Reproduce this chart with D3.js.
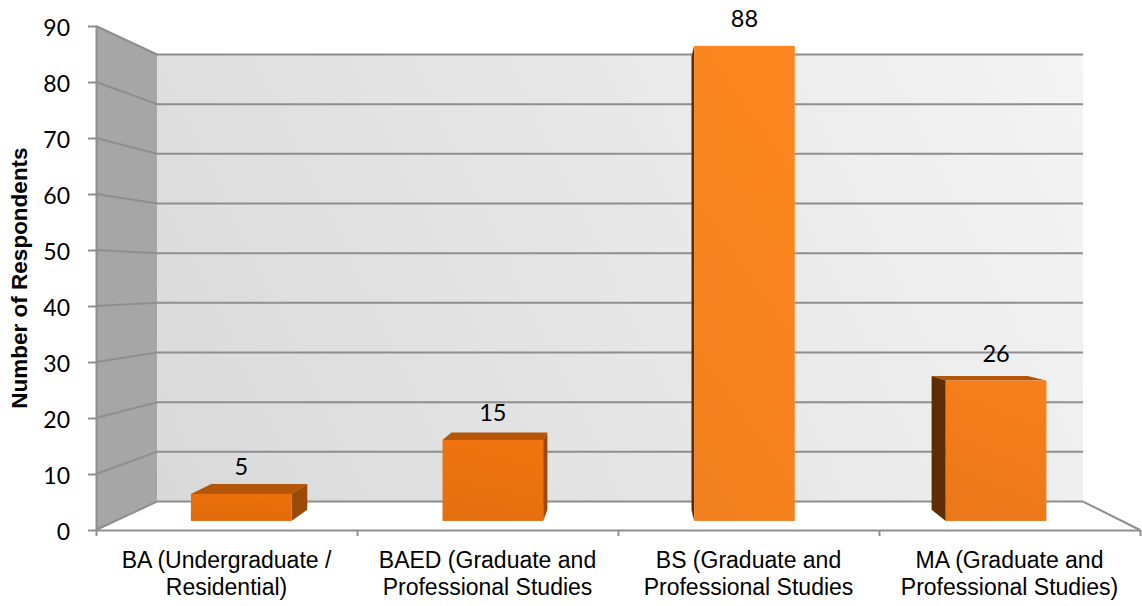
<!DOCTYPE html>
<html>
<head>
<meta charset="utf-8">
<script src="https://cdn.jsdelivr.net/npm/d3@7"></script>
<style>
  html, body { margin: 0; padding: 0; background: #ffffff; }
  svg { display: block; }
</style>
</head>
<body>
<svg id="chart" width="1142" height="606"></svg>
<script>
// ---- data ----
const categories = ["BA", "BAED", "BS", "MA"];
const categoryLabels = [
  ["BA (Undergraduate /", "Residential)"],
  ["BAED (Graduate and", "Professional Studies"],
  ["BS (Graduate and", "Professional Studies"],
  ["MA (Graduate and", "Professional Studies)"]
];
const respondents = [5, 15, 88, 26];
const yTicks = [0, 10, 20, 30, 40, 50, 60, 70, 80, 90];
const yTitle = "Number of Respondents";

// ---- layout ----
const svg = d3.select("#chart");
const plot = { left: 96, right: 1140, top: 26, bottom: 530 };
const vp = [636, 278];                       // vanishing point of the 3-D box
const depth = { wall: 0.887, barFront: 0.964, barBack: 0.92 };
const gridColor = "#8e8e8e";

const x = d3.scaleBand()
  .domain(categories)
  .range([plot.left, plot.right])
  .paddingInner(0.6)
  .paddingOuter(0.3);
const xEdge = d3.scaleLinear().domain([0, categories.length]).range([plot.left, plot.right]);
const y = d3.scaleLinear().domain([0, 90]).range([plot.bottom, plot.top]);
// taller bars catch more light
const shade = d3.scaleLinear()
  .domain([5, 15, 26, 88])
  .range(["#e46c0a", "#e8710f", "#ef7a1a", "#f5831f"]);

// project a point of the front plane to a given depth (scale toward vp)
const proj = (px, py, s) => [vp[0] + s * (px - vp[0]), vp[1] + s * (py - vp[1])];
const line = d3.line();
const poly = pts => line(pts) + "Z";

const defs = svg.append("defs");
const wallGrad = defs.append("linearGradient")
  .attr("id", "backWall").attr("gradientUnits", "userSpaceOnUse")
  .attr("x1", 157).attr("y1", 500).attr("x2", 1083).attr("y2", 56);
wallGrad.append("stop").attr("offset", 0).attr("stop-color", "#d9d9d9");
wallGrad.append("stop").attr("offset", 1).attr("stop-color", "#f4f4f4");

const L = plot.left, R = plot.right;
const y0 = y(0), yMax = y(90), sw = depth.wall;

// ---- walls and floor ----
const g = svg.append("g");
g.append("path")
  .attr("d", poly([proj(L, y0, 1), proj(L, yMax, 1), proj(L, yMax, sw), proj(L, y0, sw)]))
  .attr("fill", "#a6a6a6");
g.append("path")
  .attr("d", poly([proj(L, y0, sw), proj(L, yMax, sw), proj(R, yMax, sw), proj(R, y0, sw)]))
  .attr("fill", "url(#backWall)");
g.append("path")
  .attr("d", poly([proj(L, y0, 1), proj(L, y0, sw), proj(R, y0, sw), proj(R, y0, 1)]))
  .attr("fill", "#ffffff");

// gridlines: across left wall then back wall
g.selectAll("path.grid")
  .data(yTicks)
  .join("path")
  .attr("class", "grid")
  .attr("d", v => line([proj(L, y(v), 1), proj(L, y(v), sw), proj(R, y(v), sw)]))
  .attr("fill", "none")
  .attr("stroke", gridColor)
  .attr("stroke-width", 2);

// right edge of the floor
g.append("path")
  .attr("d", line([proj(R, y0, sw), proj(R, y0, 1)]))
  .attr("stroke", gridColor).attr("stroke-width", 2).attr("fill", "none");

// ---- bars ----
const barData = categories.map((c, i) => ({ c, v: respondents[i], i }));

barData.forEach(d => {
  const base = d3.color(shade(d.v));
  const gr = defs.append("linearGradient")
    .attr("id", "front" + d.i)
    .attr("x1", 0).attr("y1", 1).attr("x2", 0.3).attr("y2", 0);
  gr.append("stop").attr("offset", 0).attr("stop-color", base.darker(0.06).formatHex());
  gr.append("stop").attr("offset", 1).attr("stop-color", base.brighter(0.08).formatHex());
});

const bars = svg.append("g").selectAll("g.bar")
  .data(barData)
  .join("g").attr("class", "bar");

bars.each(function (d) {
  const b = d3.select(this);
  const x0 = x(d.c), x1 = x(d.c) + x.bandwidth();
  const yT = y(d.v), yB = y(0);
  const sf = depth.barFront, sb = depth.barBack;

  // top face (only visible below the vanishing point)
  if (proj(x0, yT, sf)[1] > vp[1]) {
    b.append("path")
      .attr("d", poly([proj(x0, yT, sf), proj(x1, yT, sf), proj(x1, yT, sb), proj(x0, yT, sb)]))
      .attr("fill", "#b3560a");
  }
  // side faces
  if (x1 < vp[0]) {
    b.append("path")
      .attr("d", poly([proj(x1, yT, sf), proj(x1, yT, sb), proj(x1, yB, sb), proj(x1, yB, sf)]))
      .attr("fill", "#9b4906");
  }
  if (x0 > vp[0]) {
    b.append("path")
      .attr("d", poly([proj(x0, yT, sf), proj(x0, yT, sb), proj(x0, yB, sb), proj(x0, yB, sf)]))
      .attr("fill", "#5e2c05");
  }
  // front face
  const p0 = proj(x0, yT, sf), p1 = proj(x1, yB, sf);
  b.append("rect")
    .attr("x", p0[0]).attr("y", p0[1])
    .attr("width", p1[0] - p0[0]).attr("height", p1[1] - p0[1])
    .attr("fill", `url(#front${d.i})`);

  // value label
  b.append("text")
    .attr("x", (p0[0] + p1[0]) / 2)
    .attr("y", p0[1] - 19)
    .attr("text-anchor", "middle")
    .attr("font-family", "Lato, 'Open Sans', sans-serif")
    .attr("font-size", 23.5)
    .attr("fill", "#000")
    .text(d.v);
});

// ---- axes ----
const yAxis = svg.append("g")
  .attr("transform", `translate(${plot.left},0)`)
  .call(d3.axisLeft(y).tickValues(yTicks).tickSize(8).tickSizeOuter(0).tickPadding(18));
yAxis.select(".domain").attr("stroke", gridColor).attr("stroke-width", 2);
yAxis.selectAll(".tick line").attr("stroke", gridColor).attr("stroke-width", 2);
yAxis.selectAll(".tick text")
  .attr("font-family", "Lato, 'Open Sans', sans-serif")
  .attr("font-size", 23)
  .attr("fill", "#000")
  .attr("dy", "0.42em");

const xAxis = svg.append("g")
  .attr("transform", `translate(0,${plot.bottom})`)
  .call(d3.axisBottom(xEdge).tickValues(d3.range(categories.length + 1))
    .tickSize(6).tickSizeOuter(0).tickFormat(""));
xAxis.select(".domain").attr("stroke", gridColor).attr("stroke-width", 2);
xAxis.selectAll(".tick line").attr("stroke", gridColor).attr("stroke-width", 2);

// category labels
svg.append("g").selectAll("text")
  .data(categories)
  .join("text")
  .attr("x", c => x(c) + x.bandwidth() / 2)
  .attr("y", 568)
  .attr("text-anchor", "middle")
  .attr("font-family", "'Liberation Sans', Arial, sans-serif")
  .attr("font-size", 23)
  .attr("fill", "#000")
  .selectAll("tspan")
  .data((c, i) => categoryLabels[i])
  .join("tspan")
  .attr("x", function () { return d3.select(this.parentNode).attr("x"); })
  .attr("dy", (t, j) => j === 0 ? 0 : 27)
  .text(t => t);

// y-axis title
svg.append("text")
  .attr("transform", `translate(27,${(plot.top + plot.bottom) / 2}) rotate(-90)`)
  .attr("text-anchor", "middle")
  .attr("font-family", "'Liberation Sans', Arial, sans-serif")
  .attr("font-weight", "bold")
  .attr("font-size", 22.5)
  .attr("fill", "#000")
  .text(yTitle);
</script>
</body>
</html>
